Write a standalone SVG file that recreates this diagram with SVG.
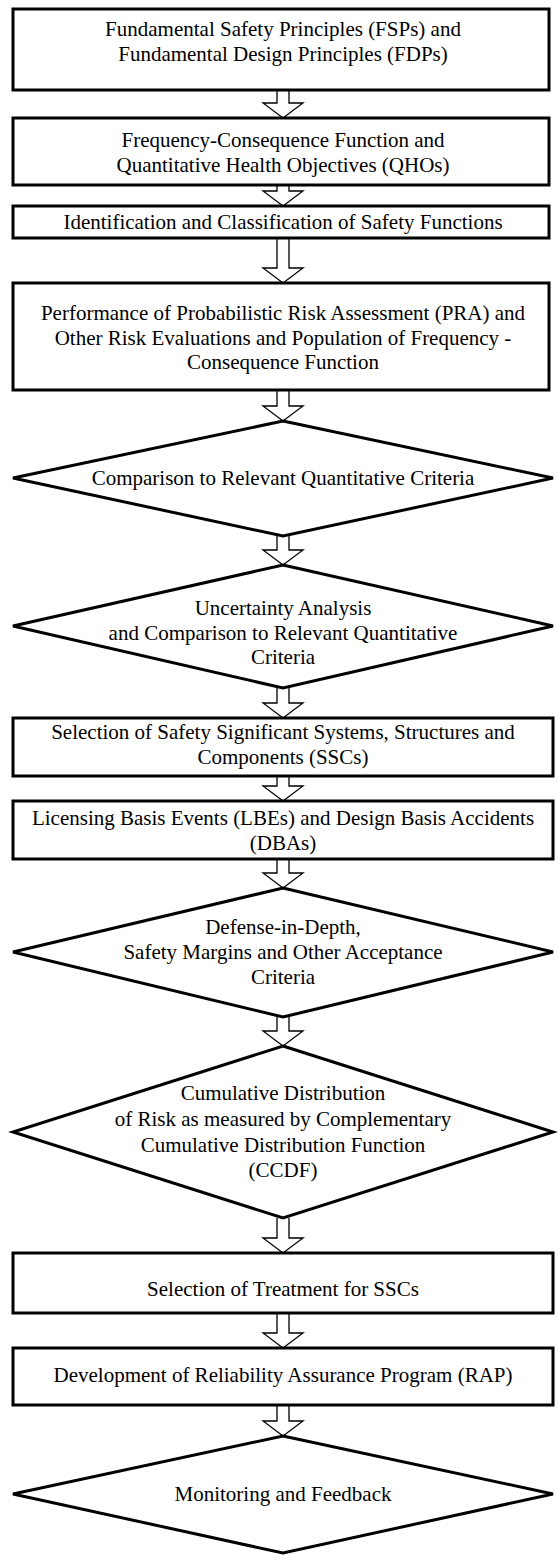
<svg xmlns="http://www.w3.org/2000/svg" width="559" height="1558" viewBox="0 0 559 1558">
<style>
.box{fill:#fff;stroke:#000;stroke-width:3}
.dia{fill:#fff;stroke:#000;stroke-width:3;stroke-linejoin:miter}
.arr{fill:#fff;stroke:#000;stroke-width:1.3;stroke-linejoin:miter}
text{font-family:"Liberation Serif","Times New Roman",serif;font-size:21px;fill:#000;text-anchor:middle}
</style>
<rect width="559" height="1558" fill="#fff"/>
<g id="connectors">
<path class="arr" d="M277,90 V103 H263 L283,118 L303,103 H289 V90"/>
<path class="arr" d="M277,185 V191 H263 L283,206 L303,191 H289 V185"/>
<path class="arr" d="M277,238 V268 H263 L283,283 L303,268 H289 V238"/>
<path class="arr" d="M277,390 V406 H263 L283,421 L303,406 H289 V390"/>
<path class="arr" d="M277,536 V550 H263 L283,565 L303,550 H289 V536"/>
<path class="arr" d="M277,688 V703 H263 L283,718 L303,703 H289 V688"/>
<path class="arr" d="M277,776 V786 H263 L283,801 L303,786 H289 V776"/>
<path class="arr" d="M277,859 V873 H263 L283,888 L303,873 H289 V859"/>
<path class="arr" d="M277,1017 V1031 H263 L283,1046 L303,1031 H289 V1017"/>
<path class="arr" d="M277,1218 V1238 H263 L283,1253 L303,1238 H289 V1218"/>
<path class="arr" d="M277,1313 V1333 H263 L283,1348 L303,1333 H289 V1313"/>
<path class="arr" d="M277,1405 V1421 H263 L283,1436 L303,1421 H289 V1405"/>
</g>
<g id="n1"><rect class="box" x="13" y="9" width="536" height="81"/>
<text x="283" y="36">Fundamental Safety Principles (FSPs) and</text>
<text x="283" y="61">Fundamental Design Principles (FDPs)</text></g>
<g id="n2"><rect class="box" x="13" y="118" width="536" height="67"/>
<text x="283" y="147">Frequency-Consequence Function and</text>
<text x="283" y="172">Quantitative Health Objectives (QHOs)</text></g>
<g id="n3"><rect class="box" x="13" y="206" width="536" height="32"/>
<text x="283" y="229">Identification and Classification of Safety Functions</text></g>
<g id="n4"><rect class="box" x="13" y="283" width="536" height="107"/>
<text x="283" y="320">Performance of Probabilistic Risk Assessment (PRA) and</text>
<text x="283" y="345">Other Risk Evaluations and Population of Frequency -</text>
<text x="283" y="369">Consequence Function</text></g>
<g id="n5"><polygon class="dia" points="283,421 553,478 283,536 13,478"/>
<text x="283" y="485">Comparison to Relevant Quantitative Criteria</text></g>
<g id="n6"><polygon class="dia" points="283,565 553,626 283,688 13,626"/>
<text x="283" y="615">Uncertainty Analysis</text>
<text x="283" y="640">and Comparison to Relevant Quantitative</text>
<text x="283" y="664">Criteria</text></g>
<g id="n7"><rect class="box" x="13" y="718" width="540" height="58"/>
<text x="283" y="739">Selection of Safety Significant Systems, Structures and</text>
<text x="283" y="764">Components (SSCs)</text></g>
<g id="n8"><rect class="box" x="13" y="801" width="540" height="58"/>
<text x="283" y="825">Licensing Basis Events (LBEs) and Design Basis Accidents</text>
<text x="283" y="850">(DBAs)</text></g>
<g id="n9"><polygon class="dia" points="283,888 553,952 283,1017 13,952"/>
<text x="283" y="934">Defense-in-Depth,</text>
<text x="283" y="959">Safety Margins and Other Acceptance</text>
<text x="283" y="984">Criteria</text></g>
<g id="n10"><polygon class="dia" points="283,1046 553,1132 283,1218 13,1132"/>
<text x="283" y="1100">Cumulative Distribution</text>
<text x="283" y="1126">of Risk as measured by Complementary</text>
<text x="283" y="1152">Cumulative Distribution Function</text>
<text x="283" y="1177">(CCDF)</text></g>
<g id="n11"><rect class="box" x="13" y="1253" width="540" height="60"/>
<text x="283" y="1296">Selection of Treatment for SSCs</text></g>
<g id="n12"><rect class="box" x="13" y="1348" width="540" height="57"/>
<text x="283" y="1382">Development of Reliability Assurance Program (RAP)</text></g>
<g id="n13"><polygon class="dia" points="283,1436 553,1494 283,1553 13,1494"/>
<text x="283" y="1501">Monitoring and Feedback</text></g>
</svg>
